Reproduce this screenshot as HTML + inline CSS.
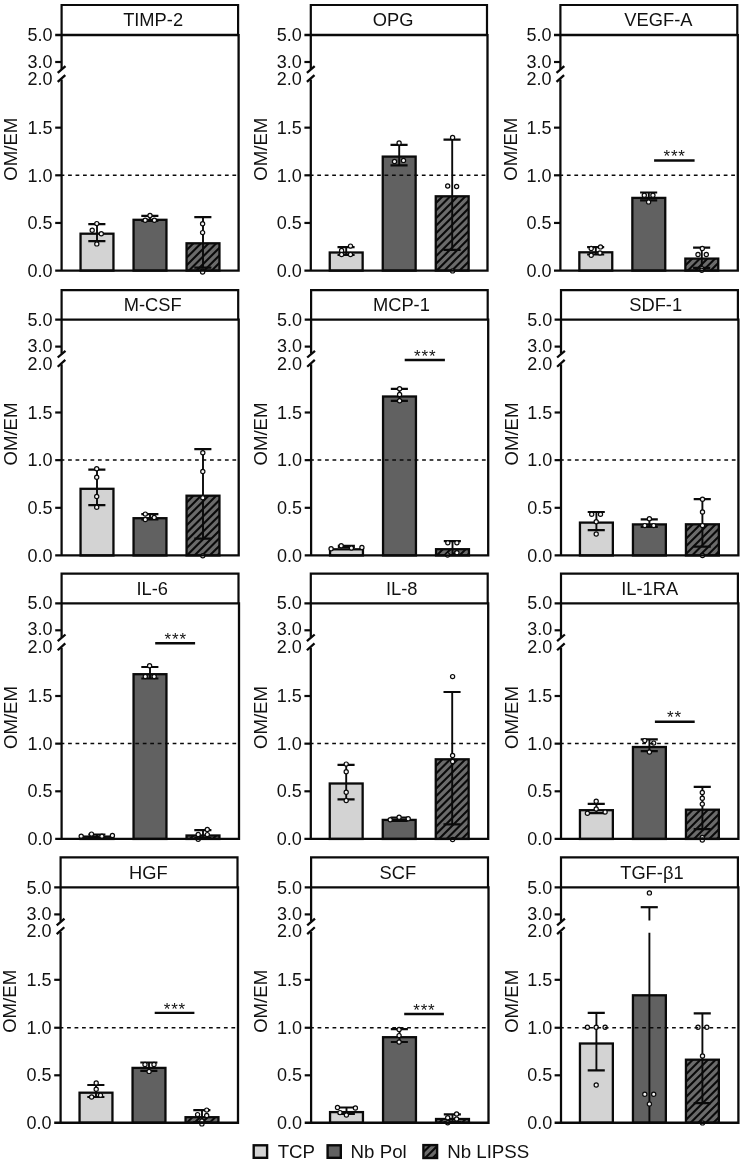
<!DOCTYPE html>
<html><head><meta charset="utf-8"><title>Figure</title>
<style>html,body{margin:0;padding:0;background:#fff}svg{display:block;will-change:transform}text{font-family:"Liberation Sans",sans-serif;fill:#111}</style>
</head><body>
<svg width="743" height="1163" viewBox="0 0 743 1163">
<rect x="0" y="0" width="743" height="1163" fill="#fff"/>
<g>
<rect x="80.55" y="233.7" width="32.9" height="36.9" fill="#d3d3d3" stroke="#0a0a0a" stroke-width="2.3"/>
<rect x="133.55" y="219.8" width="32.9" height="50.8" fill="#616161" stroke="#0a0a0a" stroke-width="2.3"/>
<clipPath id="c00"><rect x="186.55" y="243.3" width="32.9" height="27.3"/></clipPath>
<rect x="186.55" y="243.3" width="32.9" height="27.3" fill="#6b6b6b"/>
<path clip-path="url(#c00)" d="M184.55 229.4L221.45 192.5M184.55 237L221.45 200.1M184.55 244.6L221.45 207.7M184.55 252.2L221.45 215.3M184.55 259.8L221.45 222.9M184.55 267.4L221.45 230.5M184.55 275L221.45 238.1M184.55 282.6L221.45 245.7M184.55 290.2L221.45 253.3M184.55 297.8L221.45 260.9M184.55 305.4L221.45 268.5M184.55 313L221.45 276.1M184.55 320.6L221.45 283.7M184.55 328.2L221.45 291.3" stroke="#0a0a0a" stroke-width="2.1" fill="none"/>
<rect x="186.55" y="243.3" width="32.9" height="27.3" fill="none" stroke="#0a0a0a" stroke-width="2.3"/>
<path d="M88.3 224.1H105.4M88.3 241.2H105.4" stroke="#0a0a0a" stroke-width="2.2" fill="none"/><path d="M97 224.1V241.2" stroke="#0a0a0a" stroke-width="1.9" fill="none"/>
<path d="M141.3 215.8H158.4M141.3 221H158.4" stroke="#0a0a0a" stroke-width="2.2" fill="none"/><path d="M150 215.8V221" stroke="#0a0a0a" stroke-width="1.9" fill="none"/>
<path d="M194.3 217.2H211.4M194.3 267.6H211.4" stroke="#0a0a0a" stroke-width="2.2" fill="none"/><path d="M203 217.2V267.6" stroke="#0a0a0a" stroke-width="1.9" fill="none"/>
<circle cx="96.8" cy="223.6" r="2.1" fill="#f4f4f4" stroke="#0a0a0a" stroke-width="1.2"/>
<circle cx="92.2" cy="230.3" r="2.1" fill="#f4f4f4" stroke="#0a0a0a" stroke-width="1.2"/>
<circle cx="101.3" cy="233.8" r="2.1" fill="#f4f4f4" stroke="#0a0a0a" stroke-width="1.2"/>
<circle cx="96.8" cy="243.9" r="2.1" fill="#f4f4f4" stroke="#0a0a0a" stroke-width="1.2"/>
<circle cx="150" cy="215.4" r="2.1" fill="#f4f4f4" stroke="#0a0a0a" stroke-width="1.2"/>
<circle cx="145.2" cy="220.2" r="2.1" fill="#f4f4f4" stroke="#0a0a0a" stroke-width="1.2"/>
<circle cx="154.4" cy="220.2" r="2.1" fill="#f4f4f4" stroke="#0a0a0a" stroke-width="1.2"/>
<circle cx="202.6" cy="223.8" r="2.1" fill="#f4f4f4" stroke="#0a0a0a" stroke-width="1.2"/>
<circle cx="202.6" cy="232.6" r="2.1" fill="#f4f4f4" stroke="#0a0a0a" stroke-width="1.2"/>
<circle cx="202.6" cy="271.2" r="2.1" fill="#f4f4f4" stroke="#0a0a0a" stroke-width="1.2"/>
<circle cx="202.6" cy="272" r="2.1" fill="#f4f4f4" stroke="#0a0a0a" stroke-width="1.2"/>
<path d="M60.6 175.15H238.6" stroke="#0a0a0a" stroke-width="1.5" stroke-dasharray="3.75 3.72" fill="none"/>
<path d="M61.6 35V5H238.1V35" stroke="#0a0a0a" stroke-width="2.2" fill="none" stroke-linejoin="miter"/>
<path d="M238.6 33.9V270.6H55.2" stroke="#0a0a0a" stroke-width="2.3" fill="none" stroke-linejoin="miter"/>
<path d="M55.2 35H238.6" stroke="#0a0a0a" stroke-width="2.3" fill="none"/>
<path d="M61.6 35V69.1M61.6 79.5V270.6" stroke="#0a0a0a" stroke-width="2.25" fill="none"/>
<path d="M57.7 72.9L65.5 66.2M57.7 81.9L65.3 75.1" stroke="#0a0a0a" stroke-width="2.3" fill="none"/>
<path d="M55.2 62H61.6" stroke="#0a0a0a" stroke-width="2.2" fill="none"/>
<path d="M55.2 127.65H61.6" stroke="#0a0a0a" stroke-width="2.2" fill="none"/>
<path d="M55.2 175.3H61.6" stroke="#0a0a0a" stroke-width="2.2" fill="none"/>
<path d="M55.2 222.95H61.6" stroke="#0a0a0a" stroke-width="2.2" fill="none"/>
<text x="52.5" y="41.3" font-size="18" text-anchor="end">5.0</text>
<text x="52.5" y="67.5" font-size="18" text-anchor="end">3.0</text>
<text x="52.5" y="85" font-size="18" text-anchor="end">2.0</text>
<text x="52.5" y="133.95" font-size="18" text-anchor="end">1.5</text>
<text x="52.5" y="181.6" font-size="18" text-anchor="end">1.0</text>
<text x="52.5" y="229.25" font-size="18" text-anchor="end">0.5</text>
<text x="52.5" y="276.9" font-size="18" text-anchor="end">0.0</text>
<text transform="translate(17.3 149.2) rotate(-90)" font-size="18.6" text-anchor="middle">OM/EM</text>
<text x="153.1" y="26.15" font-size="18.3" text-anchor="middle">TIMP-2</text>
</g>
<g>
<rect x="329.75" y="252.5" width="32.9" height="18.1" fill="#d3d3d3" stroke="#0a0a0a" stroke-width="2.3"/>
<rect x="382.75" y="156.6" width="32.9" height="114" fill="#616161" stroke="#0a0a0a" stroke-width="2.3"/>
<clipPath id="c01"><rect x="435.75" y="196.3" width="32.9" height="74.3"/></clipPath>
<rect x="435.75" y="196.3" width="32.9" height="74.3" fill="#6b6b6b"/>
<path clip-path="url(#c01)" d="M433.75 182.4L470.65 145.5M433.75 190L470.65 153.1M433.75 197.6L470.65 160.7M433.75 205.2L470.65 168.3M433.75 212.8L470.65 175.9M433.75 220.4L470.65 183.5M433.75 228L470.65 191.1M433.75 235.6L470.65 198.7M433.75 243.2L470.65 206.3M433.75 250.8L470.65 213.9M433.75 258.4L470.65 221.5M433.75 266L470.65 229.1M433.75 273.6L470.65 236.7M433.75 281.2L470.65 244.3M433.75 288.8L470.65 251.9M433.75 296.4L470.65 259.5M433.75 304L470.65 267.1M433.75 311.6L470.65 274.7M433.75 319.2L470.65 282.3M433.75 326.8L470.65 289.9" stroke="#0a0a0a" stroke-width="2.1" fill="none"/>
<rect x="435.75" y="196.3" width="32.9" height="74.3" fill="none" stroke="#0a0a0a" stroke-width="2.3"/>
<path d="M337.5 247.1H354.6M337.5 255H354.6" stroke="#0a0a0a" stroke-width="2.2" fill="none"/><path d="M346.2 247.1V255" stroke="#0a0a0a" stroke-width="1.9" fill="none"/>
<path d="M390.5 144.8H407.6M390.5 165.3H407.6" stroke="#0a0a0a" stroke-width="2.2" fill="none"/><path d="M399.2 144.8V165.3" stroke="#0a0a0a" stroke-width="1.9" fill="none"/>
<path d="M443.5 139.7H460.6M443.5 249.9H460.6" stroke="#0a0a0a" stroke-width="2.2" fill="none"/><path d="M452.2 139.7V249.9" stroke="#0a0a0a" stroke-width="1.9" fill="none"/>
<circle cx="350.5" cy="246.1" r="2.1" fill="#f4f4f4" stroke="#0a0a0a" stroke-width="1.2"/>
<circle cx="341.6" cy="250.4" r="2.1" fill="#f4f4f4" stroke="#0a0a0a" stroke-width="1.2"/>
<circle cx="341.6" cy="254.5" r="2.1" fill="#f4f4f4" stroke="#0a0a0a" stroke-width="1.2"/>
<circle cx="350.5" cy="254.5" r="2.1" fill="#f4f4f4" stroke="#0a0a0a" stroke-width="1.2"/>
<circle cx="399.1" cy="143" r="2.1" fill="#f4f4f4" stroke="#0a0a0a" stroke-width="1.2"/>
<circle cx="394.5" cy="161.4" r="2.1" fill="#f4f4f4" stroke="#0a0a0a" stroke-width="1.2"/>
<circle cx="403.5" cy="160.4" r="2.1" fill="#f4f4f4" stroke="#0a0a0a" stroke-width="1.2"/>
<circle cx="452.6" cy="137.4" r="2.1" fill="#f4f4f4" stroke="#0a0a0a" stroke-width="1.2"/>
<circle cx="447.7" cy="186" r="2.1" fill="#f4f4f4" stroke="#0a0a0a" stroke-width="1.2"/>
<circle cx="456.6" cy="186.5" r="2.1" fill="#f4f4f4" stroke="#0a0a0a" stroke-width="1.2"/>
<circle cx="452.6" cy="270.9" r="2.1" fill="#f4f4f4" stroke="#0a0a0a" stroke-width="1.2"/>
<path d="M309.8 175.15H487.5" stroke="#0a0a0a" stroke-width="1.5" stroke-dasharray="3.75 3.72" fill="none"/>
<path d="M310.8 35V5H487V35" stroke="#0a0a0a" stroke-width="2.2" fill="none" stroke-linejoin="miter"/>
<path d="M487.5 33.9V270.6H304.4" stroke="#0a0a0a" stroke-width="2.3" fill="none" stroke-linejoin="miter"/>
<path d="M304.4 35H487.5" stroke="#0a0a0a" stroke-width="2.3" fill="none"/>
<path d="M310.8 35V69.1M310.8 79.5V270.6" stroke="#0a0a0a" stroke-width="2.25" fill="none"/>
<path d="M306.9 72.9L314.7 66.2M306.9 81.9L314.5 75.1" stroke="#0a0a0a" stroke-width="2.3" fill="none"/>
<path d="M304.4 62H310.8" stroke="#0a0a0a" stroke-width="2.2" fill="none"/>
<path d="M304.4 127.65H310.8" stroke="#0a0a0a" stroke-width="2.2" fill="none"/>
<path d="M304.4 175.3H310.8" stroke="#0a0a0a" stroke-width="2.2" fill="none"/>
<path d="M304.4 222.95H310.8" stroke="#0a0a0a" stroke-width="2.2" fill="none"/>
<text x="301.8" y="41.3" font-size="18" text-anchor="end">5.0</text>
<text x="301.8" y="67.5" font-size="18" text-anchor="end">3.0</text>
<text x="301.8" y="85" font-size="18" text-anchor="end">2.0</text>
<text x="301.8" y="133.95" font-size="18" text-anchor="end">1.5</text>
<text x="301.8" y="181.6" font-size="18" text-anchor="end">1.0</text>
<text x="301.8" y="229.25" font-size="18" text-anchor="end">0.5</text>
<text x="301.8" y="276.9" font-size="18" text-anchor="end">0.0</text>
<text transform="translate(266.8 149.2) rotate(-90)" font-size="18.6" text-anchor="middle">OM/EM</text>
<text x="393.1" y="26.15" font-size="18.3" text-anchor="middle">OPG</text>
</g>
<g>
<rect x="579.35" y="252.3" width="32.9" height="18.3" fill="#d3d3d3" stroke="#0a0a0a" stroke-width="2.3"/>
<rect x="632.35" y="197.9" width="32.9" height="72.7" fill="#616161" stroke="#0a0a0a" stroke-width="2.3"/>
<clipPath id="c02"><rect x="685.35" y="258.6" width="32.9" height="12"/></clipPath>
<rect x="685.35" y="258.6" width="32.9" height="12" fill="#6b6b6b"/>
<path clip-path="url(#c02)" d="M683.35 244.7L720.25 207.8M683.35 252.3L720.25 215.4M683.35 259.9L720.25 223M683.35 267.5L720.25 230.6M683.35 275.1L720.25 238.2M683.35 282.7L720.25 245.8M683.35 290.3L720.25 253.4M683.35 297.9L720.25 261M683.35 305.5L720.25 268.6M683.35 313.1L720.25 276.2M683.35 320.7L720.25 283.8M683.35 328.3L720.25 291.4" stroke="#0a0a0a" stroke-width="2.1" fill="none"/>
<rect x="685.35" y="258.6" width="32.9" height="12" fill="none" stroke="#0a0a0a" stroke-width="2.3"/>
<path d="M587.1 247.2H604.2M587.1 254.5H604.2" stroke="#0a0a0a" stroke-width="2.2" fill="none"/><path d="M595.8 247.2V254.5" stroke="#0a0a0a" stroke-width="1.9" fill="none"/>
<path d="M640.1 192.5H657.2M640.1 200.3H657.2" stroke="#0a0a0a" stroke-width="2.2" fill="none"/><path d="M648.8 192.5V200.3" stroke="#0a0a0a" stroke-width="1.9" fill="none"/>
<path d="M693.1 247.7H710.2M693.1 267.9H710.2" stroke="#0a0a0a" stroke-width="2.2" fill="none"/><path d="M701.8 247.7V267.9" stroke="#0a0a0a" stroke-width="1.9" fill="none"/>
<circle cx="600.5" cy="246.9" r="2.1" fill="#f4f4f4" stroke="#0a0a0a" stroke-width="1.2"/>
<circle cx="591.2" cy="248.4" r="2.1" fill="#f4f4f4" stroke="#0a0a0a" stroke-width="1.2"/>
<circle cx="600" cy="253" r="2.1" fill="#f4f4f4" stroke="#0a0a0a" stroke-width="1.2"/>
<circle cx="591.2" cy="255.3" r="2.1" fill="#f4f4f4" stroke="#0a0a0a" stroke-width="1.2"/>
<circle cx="644.3" cy="195.3" r="2.1" fill="#f4f4f4" stroke="#0a0a0a" stroke-width="1.2"/>
<circle cx="652.9" cy="195.3" r="2.1" fill="#f4f4f4" stroke="#0a0a0a" stroke-width="1.2"/>
<circle cx="648.6" cy="201.9" r="2.1" fill="#f4f4f4" stroke="#0a0a0a" stroke-width="1.2"/>
<circle cx="702.3" cy="248.4" r="2.1" fill="#f4f4f4" stroke="#0a0a0a" stroke-width="1.2"/>
<circle cx="698" cy="254.5" r="2.1" fill="#f4f4f4" stroke="#0a0a0a" stroke-width="1.2"/>
<circle cx="706.3" cy="254.5" r="2.1" fill="#f4f4f4" stroke="#0a0a0a" stroke-width="1.2"/>
<circle cx="701.8" cy="268.6" r="2.1" fill="#f4f4f4" stroke="#0a0a0a" stroke-width="1.2"/>
<circle cx="701.8" cy="270.2" r="2.1" fill="#f4f4f4" stroke="#0a0a0a" stroke-width="1.2"/>
<path d="M559.4 175.15H737.8" stroke="#0a0a0a" stroke-width="1.5" stroke-dasharray="3.75 3.72" fill="none"/>
<path d="M560.4 35V5H737.3V35" stroke="#0a0a0a" stroke-width="2.2" fill="none" stroke-linejoin="miter"/>
<path d="M737.8 33.9V270.6H554" stroke="#0a0a0a" stroke-width="2.3" fill="none" stroke-linejoin="miter"/>
<path d="M554 35H737.8" stroke="#0a0a0a" stroke-width="2.3" fill="none"/>
<path d="M560.4 35V69.1M560.4 79.5V270.6" stroke="#0a0a0a" stroke-width="2.25" fill="none"/>
<path d="M556.5 72.9L564.3 66.2M556.5 81.9L564.1 75.1" stroke="#0a0a0a" stroke-width="2.3" fill="none"/>
<path d="M554 62H560.4" stroke="#0a0a0a" stroke-width="2.2" fill="none"/>
<path d="M554 127.65H560.4" stroke="#0a0a0a" stroke-width="2.2" fill="none"/>
<path d="M554 175.3H560.4" stroke="#0a0a0a" stroke-width="2.2" fill="none"/>
<path d="M554 222.95H560.4" stroke="#0a0a0a" stroke-width="2.2" fill="none"/>
<text x="551.6" y="41.3" font-size="18" text-anchor="end">5.0</text>
<text x="551.6" y="67.5" font-size="18" text-anchor="end">3.0</text>
<text x="551.6" y="85" font-size="18" text-anchor="end">2.0</text>
<text x="551.6" y="133.95" font-size="18" text-anchor="end">1.5</text>
<text x="551.6" y="181.6" font-size="18" text-anchor="end">1.0</text>
<text x="551.6" y="229.25" font-size="18" text-anchor="end">0.5</text>
<text x="551.6" y="276.9" font-size="18" text-anchor="end">0.0</text>
<text transform="translate(516.9 149.2) rotate(-90)" font-size="18.6" text-anchor="middle">OM/EM</text>
<text x="658.4" y="26.15" font-size="18.3" text-anchor="middle">VEGF-A</text>
<path d="M654.1 160.5H694.6" stroke="#0a0a0a" stroke-width="2.4" fill="none"/>
<text x="674.65" y="161.9" font-size="17" text-anchor="middle" letter-spacing="0.8">***</text>
</g>
<g>
<rect x="80.55" y="488.8" width="32.9" height="66.65" fill="#d3d3d3" stroke="#0a0a0a" stroke-width="2.3"/>
<rect x="133.55" y="518.2" width="32.9" height="37.25" fill="#616161" stroke="#0a0a0a" stroke-width="2.3"/>
<clipPath id="c10"><rect x="186.55" y="495.7" width="32.9" height="59.75"/></clipPath>
<rect x="186.55" y="495.7" width="32.9" height="59.75" fill="#6b6b6b"/>
<path clip-path="url(#c10)" d="M184.55 481.8L221.45 444.9M184.55 489.4L221.45 452.5M184.55 497L221.45 460.1M184.55 504.6L221.45 467.7M184.55 512.2L221.45 475.3M184.55 519.8L221.45 482.9M184.55 527.4L221.45 490.5M184.55 535L221.45 498.1M184.55 542.6L221.45 505.7M184.55 550.2L221.45 513.3M184.55 557.8L221.45 520.9M184.55 565.4L221.45 528.5M184.55 573L221.45 536.1M184.55 580.6L221.45 543.7M184.55 588.2L221.45 551.3M184.55 595.8L221.45 558.9M184.55 603.4L221.45 566.5M184.55 611L221.45 574.1" stroke="#0a0a0a" stroke-width="2.1" fill="none"/>
<rect x="186.55" y="495.7" width="32.9" height="59.75" fill="none" stroke="#0a0a0a" stroke-width="2.3"/>
<path d="M88.3 469.6H105.4M88.3 505.1H105.4" stroke="#0a0a0a" stroke-width="2.2" fill="none"/><path d="M97 469.6V505.1" stroke="#0a0a0a" stroke-width="1.9" fill="none"/>
<path d="M141.3 514.1H158.4M141.3 519.5H158.4" stroke="#0a0a0a" stroke-width="2.2" fill="none"/><path d="M150 514.1V519.5" stroke="#0a0a0a" stroke-width="1.9" fill="none"/>
<path d="M194.3 449.1H211.4M194.3 538.6H211.4" stroke="#0a0a0a" stroke-width="2.2" fill="none"/><path d="M203 449.1V538.6" stroke="#0a0a0a" stroke-width="1.9" fill="none"/>
<circle cx="96.7" cy="468.8" r="2.1" fill="#f4f4f4" stroke="#0a0a0a" stroke-width="1.2"/>
<circle cx="96.7" cy="477.3" r="2.1" fill="#f4f4f4" stroke="#0a0a0a" stroke-width="1.2"/>
<circle cx="96.7" cy="496.4" r="2.1" fill="#f4f4f4" stroke="#0a0a0a" stroke-width="1.2"/>
<circle cx="96.7" cy="507.2" r="2.1" fill="#f4f4f4" stroke="#0a0a0a" stroke-width="1.2"/>
<circle cx="145.3" cy="514.1" r="2.1" fill="#f4f4f4" stroke="#0a0a0a" stroke-width="1.2"/>
<circle cx="145.3" cy="519.5" r="2.1" fill="#f4f4f4" stroke="#0a0a0a" stroke-width="1.2"/>
<circle cx="154.2" cy="517.4" r="2.1" fill="#f4f4f4" stroke="#0a0a0a" stroke-width="1.2"/>
<circle cx="202.8" cy="452.7" r="2.1" fill="#f4f4f4" stroke="#0a0a0a" stroke-width="1.2"/>
<circle cx="202.8" cy="471.4" r="2.1" fill="#f4f4f4" stroke="#0a0a0a" stroke-width="1.2"/>
<circle cx="202.8" cy="497.7" r="2.1" fill="#f4f4f4" stroke="#0a0a0a" stroke-width="1.2"/>
<circle cx="202.8" cy="555.8" r="2.1" fill="#f4f4f4" stroke="#0a0a0a" stroke-width="1.2"/>
<path d="M60.6 460H238.7" stroke="#0a0a0a" stroke-width="1.5" stroke-dasharray="3.75 3.72" fill="none"/>
<path d="M61.6 319.6V290.2H238.2V319.6" stroke="#0a0a0a" stroke-width="2.2" fill="none" stroke-linejoin="miter"/>
<path d="M238.7 318.5V555.45H55.2" stroke="#0a0a0a" stroke-width="2.3" fill="none" stroke-linejoin="miter"/>
<path d="M55.2 319.6H238.7" stroke="#0a0a0a" stroke-width="2.3" fill="none"/>
<path d="M61.6 319.6V353.7M61.6 364.35V555.45" stroke="#0a0a0a" stroke-width="2.25" fill="none"/>
<path d="M57.7 357.5L65.5 350.8M57.7 366.75L65.3 359.95" stroke="#0a0a0a" stroke-width="2.3" fill="none"/>
<path d="M55.2 346.6H61.6" stroke="#0a0a0a" stroke-width="2.2" fill="none"/>
<path d="M55.2 412.5H61.6" stroke="#0a0a0a" stroke-width="2.2" fill="none"/>
<path d="M55.2 460.15H61.6" stroke="#0a0a0a" stroke-width="2.2" fill="none"/>
<path d="M55.2 507.8H61.6" stroke="#0a0a0a" stroke-width="2.2" fill="none"/>
<text x="52.5" y="325.9" font-size="18" text-anchor="end">5.0</text>
<text x="52.5" y="352.1" font-size="18" text-anchor="end">3.0</text>
<text x="52.5" y="369.85" font-size="18" text-anchor="end">2.0</text>
<text x="52.5" y="418.8" font-size="18" text-anchor="end">1.5</text>
<text x="52.5" y="466.45" font-size="18" text-anchor="end">1.0</text>
<text x="52.5" y="514.1" font-size="18" text-anchor="end">0.5</text>
<text x="52.5" y="561.75" font-size="18" text-anchor="end">0.0</text>
<text transform="translate(17.3 434.05) rotate(-90)" font-size="18.6" text-anchor="middle">OM/EM</text>
<text x="152.7" y="311.35" font-size="18.3" text-anchor="middle">M-CSF</text>
</g>
<g>
<rect x="330.05" y="549.3" width="32.9" height="6.15" fill="#d3d3d3" stroke="#0a0a0a" stroke-width="2.3"/>
<rect x="383.05" y="396.5" width="32.9" height="158.95" fill="#616161" stroke="#0a0a0a" stroke-width="2.3"/>
<clipPath id="c11"><rect x="436.05" y="549.2" width="32.9" height="6.25"/></clipPath>
<rect x="436.05" y="549.2" width="32.9" height="6.25" fill="#6b6b6b"/>
<path clip-path="url(#c11)" d="M434.05 535.3L470.95 498.4M434.05 542.9L470.95 506M434.05 550.5L470.95 513.6M434.05 558.1L470.95 521.2M434.05 565.7L470.95 528.8M434.05 573.3L470.95 536.4M434.05 580.9L470.95 544M434.05 588.5L470.95 551.6M434.05 596.1L470.95 559.2M434.05 603.7L470.95 566.8M434.05 611.3L470.95 574.4" stroke="#0a0a0a" stroke-width="2.1" fill="none"/>
<rect x="436.05" y="549.2" width="32.9" height="6.25" fill="none" stroke="#0a0a0a" stroke-width="2.3"/>
<path d="M337.8 545.9H354.9M337.8 547H354.9" stroke="#0a0a0a" stroke-width="2.2" fill="none"/><path d="M346.5 545.9V547" stroke="#0a0a0a" stroke-width="1.9" fill="none"/>
<path d="M390.8 388.8H407.9M390.8 400.8H407.9" stroke="#0a0a0a" stroke-width="2.2" fill="none"/><path d="M399.5 388.8V400.8" stroke="#0a0a0a" stroke-width="1.9" fill="none"/>
<path d="M443.8 541.1H460.9M443.8 555H460.9" stroke="#0a0a0a" stroke-width="2.2" fill="none"/><path d="M452.5 541.1V555" stroke="#0a0a0a" stroke-width="1.9" fill="none"/>
<circle cx="331.1" cy="548.8" r="2.1" fill="#f4f4f4" stroke="#0a0a0a" stroke-width="1.2"/>
<circle cx="341.2" cy="545.8" r="2.1" fill="#f4f4f4" stroke="#0a0a0a" stroke-width="1.2"/>
<circle cx="351.4" cy="548.1" r="2.1" fill="#f4f4f4" stroke="#0a0a0a" stroke-width="1.2"/>
<circle cx="361.9" cy="547.4" r="2.1" fill="#f4f4f4" stroke="#0a0a0a" stroke-width="1.2"/>
<circle cx="399.6" cy="388.8" r="2.1" fill="#f4f4f4" stroke="#0a0a0a" stroke-width="1.2"/>
<circle cx="399.6" cy="394.4" r="2.1" fill="#f4f4f4" stroke="#0a0a0a" stroke-width="1.2"/>
<circle cx="399.6" cy="400.8" r="2.1" fill="#f4f4f4" stroke="#0a0a0a" stroke-width="1.2"/>
<circle cx="447.8" cy="542.8" r="2.1" fill="#f4f4f4" stroke="#0a0a0a" stroke-width="1.2"/>
<circle cx="456.9" cy="542.8" r="2.1" fill="#f4f4f4" stroke="#0a0a0a" stroke-width="1.2"/>
<circle cx="456.9" cy="552.7" r="2.1" fill="#f4f4f4" stroke="#0a0a0a" stroke-width="1.2"/>
<circle cx="447.6" cy="555" r="2.1" fill="#f4f4f4" stroke="#0a0a0a" stroke-width="1.2"/>
<path d="M310.1 460H488.2" stroke="#0a0a0a" stroke-width="1.5" stroke-dasharray="3.75 3.72" fill="none"/>
<path d="M311.1 319.6V290.2H487.7V319.6" stroke="#0a0a0a" stroke-width="2.2" fill="none" stroke-linejoin="miter"/>
<path d="M488.2 318.5V555.45H304.7" stroke="#0a0a0a" stroke-width="2.3" fill="none" stroke-linejoin="miter"/>
<path d="M304.7 319.6H488.2" stroke="#0a0a0a" stroke-width="2.3" fill="none"/>
<path d="M311.1 319.6V353.7M311.1 364.35V555.45" stroke="#0a0a0a" stroke-width="2.25" fill="none"/>
<path d="M307.2 357.5L315 350.8M307.2 366.75L314.8 359.95" stroke="#0a0a0a" stroke-width="2.3" fill="none"/>
<path d="M304.7 346.6H311.1" stroke="#0a0a0a" stroke-width="2.2" fill="none"/>
<path d="M304.7 412.5H311.1" stroke="#0a0a0a" stroke-width="2.2" fill="none"/>
<path d="M304.7 460.15H311.1" stroke="#0a0a0a" stroke-width="2.2" fill="none"/>
<path d="M304.7 507.8H311.1" stroke="#0a0a0a" stroke-width="2.2" fill="none"/>
<text x="302.1" y="325.9" font-size="18" text-anchor="end">5.0</text>
<text x="302.1" y="352.1" font-size="18" text-anchor="end">3.0</text>
<text x="302.1" y="369.85" font-size="18" text-anchor="end">2.0</text>
<text x="302.1" y="418.8" font-size="18" text-anchor="end">1.5</text>
<text x="302.1" y="466.45" font-size="18" text-anchor="end">1.0</text>
<text x="302.1" y="514.1" font-size="18" text-anchor="end">0.5</text>
<text x="302.1" y="561.75" font-size="18" text-anchor="end">0.0</text>
<text transform="translate(267.1 434.05) rotate(-90)" font-size="18.6" text-anchor="middle">OM/EM</text>
<text x="401.4" y="311.35" font-size="18.3" text-anchor="middle">MCP-1</text>
<path d="M404.7 360H444.9" stroke="#0a0a0a" stroke-width="2.4" fill="none"/>
<text x="425.2" y="361.5" font-size="17" text-anchor="middle" letter-spacing="0.8">***</text>
</g>
<g>
<rect x="579.95" y="522.6" width="32.9" height="32.85" fill="#d3d3d3" stroke="#0a0a0a" stroke-width="2.3"/>
<rect x="632.95" y="524.4" width="32.9" height="31.05" fill="#616161" stroke="#0a0a0a" stroke-width="2.3"/>
<clipPath id="c12"><rect x="685.95" y="524.3" width="32.9" height="31.15"/></clipPath>
<rect x="685.95" y="524.3" width="32.9" height="31.15" fill="#6b6b6b"/>
<path clip-path="url(#c12)" d="M683.95 510.4L720.85 473.5M683.95 518L720.85 481.1M683.95 525.6L720.85 488.7M683.95 533.2L720.85 496.3M683.95 540.8L720.85 503.9M683.95 548.4L720.85 511.5M683.95 556L720.85 519.1M683.95 563.6L720.85 526.7M683.95 571.2L720.85 534.3M683.95 578.8L720.85 541.9M683.95 586.4L720.85 549.5M683.95 594L720.85 557.1M683.95 601.6L720.85 564.7M683.95 609.2L720.85 572.3" stroke="#0a0a0a" stroke-width="2.1" fill="none"/>
<rect x="685.95" y="524.3" width="32.9" height="31.15" fill="none" stroke="#0a0a0a" stroke-width="2.3"/>
<path d="M587.7 512H604.8M587.7 530.2H604.8" stroke="#0a0a0a" stroke-width="2.2" fill="none"/><path d="M596.4 512V530.2" stroke="#0a0a0a" stroke-width="1.9" fill="none"/>
<path d="M640.7 519.3H657.8M640.7 526.9H657.8" stroke="#0a0a0a" stroke-width="2.2" fill="none"/><path d="M649.4 519.3V526.9" stroke="#0a0a0a" stroke-width="1.9" fill="none"/>
<path d="M693.7 499.1H710.8M693.7 546.6H710.8" stroke="#0a0a0a" stroke-width="2.2" fill="none"/><path d="M702.4 499.1V546.6" stroke="#0a0a0a" stroke-width="1.9" fill="none"/>
<circle cx="591.7" cy="514.3" r="2.1" fill="#f4f4f4" stroke="#0a0a0a" stroke-width="1.2"/>
<circle cx="600.5" cy="514.3" r="2.1" fill="#f4f4f4" stroke="#0a0a0a" stroke-width="1.2"/>
<circle cx="596.2" cy="521.8" r="2.1" fill="#f4f4f4" stroke="#0a0a0a" stroke-width="1.2"/>
<circle cx="596.2" cy="534" r="2.1" fill="#f4f4f4" stroke="#0a0a0a" stroke-width="1.2"/>
<circle cx="649.4" cy="518.8" r="2.1" fill="#f4f4f4" stroke="#0a0a0a" stroke-width="1.2"/>
<circle cx="644.8" cy="525.6" r="2.1" fill="#f4f4f4" stroke="#0a0a0a" stroke-width="1.2"/>
<circle cx="653.7" cy="525.6" r="2.1" fill="#f4f4f4" stroke="#0a0a0a" stroke-width="1.2"/>
<circle cx="702.5" cy="499.3" r="2.1" fill="#f4f4f4" stroke="#0a0a0a" stroke-width="1.2"/>
<circle cx="702.5" cy="512" r="2.1" fill="#f4f4f4" stroke="#0a0a0a" stroke-width="1.2"/>
<circle cx="702.5" cy="525.6" r="2.1" fill="#f4f4f4" stroke="#0a0a0a" stroke-width="1.2"/>
<circle cx="702.5" cy="555.5" r="2.1" fill="#f4f4f4" stroke="#0a0a0a" stroke-width="1.2"/>
<path d="M560 460H738.4" stroke="#0a0a0a" stroke-width="1.5" stroke-dasharray="3.75 3.72" fill="none"/>
<path d="M561 319.6V290.2H737.9V319.6" stroke="#0a0a0a" stroke-width="2.2" fill="none" stroke-linejoin="miter"/>
<path d="M738.4 318.5V555.45H554.6" stroke="#0a0a0a" stroke-width="2.3" fill="none" stroke-linejoin="miter"/>
<path d="M554.6 319.6H738.4" stroke="#0a0a0a" stroke-width="2.3" fill="none"/>
<path d="M561 319.6V353.7M561 364.35V555.45" stroke="#0a0a0a" stroke-width="2.25" fill="none"/>
<path d="M557.1 357.5L564.9 350.8M557.1 366.75L564.7 359.95" stroke="#0a0a0a" stroke-width="2.3" fill="none"/>
<path d="M554.6 346.6H561" stroke="#0a0a0a" stroke-width="2.2" fill="none"/>
<path d="M554.6 412.5H561" stroke="#0a0a0a" stroke-width="2.2" fill="none"/>
<path d="M554.6 460.15H561" stroke="#0a0a0a" stroke-width="2.2" fill="none"/>
<path d="M554.6 507.8H561" stroke="#0a0a0a" stroke-width="2.2" fill="none"/>
<text x="552.2" y="325.9" font-size="18" text-anchor="end">5.0</text>
<text x="552.2" y="352.1" font-size="18" text-anchor="end">3.0</text>
<text x="552.2" y="369.85" font-size="18" text-anchor="end">2.0</text>
<text x="552.2" y="418.8" font-size="18" text-anchor="end">1.5</text>
<text x="552.2" y="466.45" font-size="18" text-anchor="end">1.0</text>
<text x="552.2" y="514.1" font-size="18" text-anchor="end">0.5</text>
<text x="552.2" y="561.75" font-size="18" text-anchor="end">0.0</text>
<text transform="translate(517.5 434.05) rotate(-90)" font-size="18.6" text-anchor="middle">OM/EM</text>
<text x="655.7" y="311.35" font-size="18.3" text-anchor="middle">SDF-1</text>
</g>
<g>
<rect x="80.55" y="836.6" width="32.9" height="2.35" fill="#d3d3d3" stroke="#0a0a0a" stroke-width="2.3"/>
<rect x="133.55" y="674.2" width="32.9" height="164.75" fill="#616161" stroke="#0a0a0a" stroke-width="2.3"/>
<clipPath id="c20"><rect x="186.55" y="835.5" width="32.9" height="3.45"/></clipPath>
<rect x="186.55" y="835.5" width="32.9" height="3.45" fill="#6b6b6b"/>
<path clip-path="url(#c20)" d="M184.55 821.6L221.45 784.7M184.55 829.2L221.45 792.3M184.55 836.8L221.45 799.9M184.55 844.4L221.45 807.5M184.55 852L221.45 815.1M184.55 859.6L221.45 822.7M184.55 867.2L221.45 830.3M184.55 874.8L221.45 837.9M184.55 882.4L221.45 845.5M184.55 890L221.45 853.1M184.55 897.6L221.45 860.7" stroke="#0a0a0a" stroke-width="2.1" fill="none"/>
<rect x="186.55" y="835.5" width="32.9" height="3.45" fill="none" stroke="#0a0a0a" stroke-width="2.3"/>
<path d="M88.3 834.5H105.4M88.3 837H105.4" stroke="#0a0a0a" stroke-width="2.2" fill="none"/><path d="M97 834.5V837" stroke="#0a0a0a" stroke-width="1.9" fill="none"/>
<path d="M141.3 667H158.4M141.3 678.5H158.4" stroke="#0a0a0a" stroke-width="2.2" fill="none"/><path d="M150 667V678.5" stroke="#0a0a0a" stroke-width="1.9" fill="none"/>
<path d="M194.3 830.1H211.4M194.3 838H211.4" stroke="#0a0a0a" stroke-width="2.2" fill="none"/><path d="M203 830.1V838" stroke="#0a0a0a" stroke-width="1.9" fill="none"/>
<circle cx="81.2" cy="836.3" r="2.1" fill="#f4f4f4" stroke="#0a0a0a" stroke-width="1.2"/>
<circle cx="91.5" cy="834.1" r="2.1" fill="#f4f4f4" stroke="#0a0a0a" stroke-width="1.2"/>
<circle cx="101.9" cy="836.3" r="2.1" fill="#f4f4f4" stroke="#0a0a0a" stroke-width="1.2"/>
<circle cx="112.4" cy="835.4" r="2.1" fill="#f4f4f4" stroke="#0a0a0a" stroke-width="1.2"/>
<circle cx="149.6" cy="665.7" r="2.1" fill="#f4f4f4" stroke="#0a0a0a" stroke-width="1.2"/>
<circle cx="145.3" cy="676.5" r="2.1" fill="#f4f4f4" stroke="#0a0a0a" stroke-width="1.2"/>
<circle cx="154.2" cy="676.5" r="2.1" fill="#f4f4f4" stroke="#0a0a0a" stroke-width="1.2"/>
<circle cx="207.3" cy="829.5" r="2.1" fill="#f4f4f4" stroke="#0a0a0a" stroke-width="1.2"/>
<circle cx="198.2" cy="834.4" r="2.1" fill="#f4f4f4" stroke="#0a0a0a" stroke-width="1.2"/>
<circle cx="207.3" cy="834.6" r="2.1" fill="#f4f4f4" stroke="#0a0a0a" stroke-width="1.2"/>
<circle cx="198.2" cy="839.3" r="2.1" fill="#f4f4f4" stroke="#0a0a0a" stroke-width="1.2"/>
<path d="M60.6 743.5H239" stroke="#0a0a0a" stroke-width="1.5" stroke-dasharray="3.75 3.72" fill="none"/>
<path d="M61.6 603.3V573.6H238.5V603.3" stroke="#0a0a0a" stroke-width="2.2" fill="none" stroke-linejoin="miter"/>
<path d="M239 602.2V838.95H55.2" stroke="#0a0a0a" stroke-width="2.3" fill="none" stroke-linejoin="miter"/>
<path d="M55.2 603.3H239" stroke="#0a0a0a" stroke-width="2.3" fill="none"/>
<path d="M61.6 603.3V637.4M61.6 647.85V838.95" stroke="#0a0a0a" stroke-width="2.25" fill="none"/>
<path d="M57.7 641.2L65.5 634.5M57.7 650.25L65.3 643.45" stroke="#0a0a0a" stroke-width="2.3" fill="none"/>
<path d="M55.2 630.3H61.6" stroke="#0a0a0a" stroke-width="2.2" fill="none"/>
<path d="M55.2 696H61.6" stroke="#0a0a0a" stroke-width="2.2" fill="none"/>
<path d="M55.2 743.65H61.6" stroke="#0a0a0a" stroke-width="2.2" fill="none"/>
<path d="M55.2 791.3H61.6" stroke="#0a0a0a" stroke-width="2.2" fill="none"/>
<text x="52.5" y="609.25" font-size="18" text-anchor="end">5.0</text>
<text x="52.5" y="635.45" font-size="18" text-anchor="end">3.0</text>
<text x="52.5" y="653" font-size="18" text-anchor="end">2.0</text>
<text x="52.5" y="701.95" font-size="18" text-anchor="end">1.5</text>
<text x="52.5" y="749.6" font-size="18" text-anchor="end">1.0</text>
<text x="52.5" y="797.25" font-size="18" text-anchor="end">0.5</text>
<text x="52.5" y="844.9" font-size="18" text-anchor="end">0.0</text>
<text transform="translate(17.3 717.55) rotate(-90)" font-size="18.6" text-anchor="middle">OM/EM</text>
<text x="152.3" y="594.75" font-size="18.3" text-anchor="middle">IL-6</text>
<path d="M155.2 643.3H195.1" stroke="#0a0a0a" stroke-width="2.4" fill="none"/>
<text x="175.7" y="644.8" font-size="17" text-anchor="middle" letter-spacing="0.8">***</text>
</g>
<g>
<rect x="329.75" y="783.5" width="32.9" height="55.45" fill="#d3d3d3" stroke="#0a0a0a" stroke-width="2.3"/>
<rect x="382.75" y="819.9" width="32.9" height="19.05" fill="#616161" stroke="#0a0a0a" stroke-width="2.3"/>
<clipPath id="c21"><rect x="435.75" y="759.3" width="32.9" height="79.65"/></clipPath>
<rect x="435.75" y="759.3" width="32.9" height="79.65" fill="#6b6b6b"/>
<path clip-path="url(#c21)" d="M433.75 745.4L470.65 708.5M433.75 753L470.65 716.1M433.75 760.6L470.65 723.7M433.75 768.2L470.65 731.3M433.75 775.8L470.65 738.9M433.75 783.4L470.65 746.5M433.75 791L470.65 754.1M433.75 798.6L470.65 761.7M433.75 806.2L470.65 769.3M433.75 813.8L470.65 776.9M433.75 821.4L470.65 784.5M433.75 829L470.65 792.1M433.75 836.6L470.65 799.7M433.75 844.2L470.65 807.3M433.75 851.8L470.65 814.9M433.75 859.4L470.65 822.5M433.75 867L470.65 830.1M433.75 874.6L470.65 837.7M433.75 882.2L470.65 845.3M433.75 889.8L470.65 852.9M433.75 897.4L470.65 860.5" stroke="#0a0a0a" stroke-width="2.1" fill="none"/>
<rect x="435.75" y="759.3" width="32.9" height="79.65" fill="none" stroke="#0a0a0a" stroke-width="2.3"/>
<path d="M337.5 764.8H354.6M337.5 799.4H354.6" stroke="#0a0a0a" stroke-width="2.2" fill="none"/><path d="M346.2 764.8V799.4" stroke="#0a0a0a" stroke-width="1.9" fill="none"/>
<path d="M390.5 817.7H407.6M390.5 821H407.6" stroke="#0a0a0a" stroke-width="2.2" fill="none"/><path d="M399.2 817.7V821" stroke="#0a0a0a" stroke-width="1.9" fill="none"/>
<path d="M443.5 692H460.6M443.5 824.4H460.6" stroke="#0a0a0a" stroke-width="2.2" fill="none"/><path d="M452.2 692V824.4" stroke="#0a0a0a" stroke-width="1.9" fill="none"/>
<circle cx="346.2" cy="764.1" r="2.1" fill="#f4f4f4" stroke="#0a0a0a" stroke-width="1.2"/>
<circle cx="346.2" cy="771.7" r="2.1" fill="#f4f4f4" stroke="#0a0a0a" stroke-width="1.2"/>
<circle cx="346.2" cy="792.2" r="2.1" fill="#f4f4f4" stroke="#0a0a0a" stroke-width="1.2"/>
<circle cx="346.2" cy="800.6" r="2.1" fill="#f4f4f4" stroke="#0a0a0a" stroke-width="1.2"/>
<circle cx="390.2" cy="819.7" r="2.1" fill="#f4f4f4" stroke="#0a0a0a" stroke-width="1.2"/>
<circle cx="399.1" cy="817.3" r="2.1" fill="#f4f4f4" stroke="#0a0a0a" stroke-width="1.2"/>
<circle cx="408.2" cy="818.8" r="2.1" fill="#f4f4f4" stroke="#0a0a0a" stroke-width="1.2"/>
<circle cx="452.6" cy="676.6" r="2.1" fill="#f4f4f4" stroke="#0a0a0a" stroke-width="1.2"/>
<circle cx="452.6" cy="755.4" r="2.1" fill="#f4f4f4" stroke="#0a0a0a" stroke-width="1.2"/>
<circle cx="452.6" cy="761.5" r="2.1" fill="#f4f4f4" stroke="#0a0a0a" stroke-width="1.2"/>
<circle cx="452.6" cy="839.5" r="2.1" fill="#f4f4f4" stroke="#0a0a0a" stroke-width="1.2"/>
<path d="M309.8 743.5H488.2" stroke="#0a0a0a" stroke-width="1.5" stroke-dasharray="3.75 3.72" fill="none"/>
<path d="M310.8 603.3V573.6H487.7V603.3" stroke="#0a0a0a" stroke-width="2.2" fill="none" stroke-linejoin="miter"/>
<path d="M488.2 602.2V838.95H304.4" stroke="#0a0a0a" stroke-width="2.3" fill="none" stroke-linejoin="miter"/>
<path d="M304.4 603.3H488.2" stroke="#0a0a0a" stroke-width="2.3" fill="none"/>
<path d="M310.8 603.3V637.4M310.8 647.85V838.95" stroke="#0a0a0a" stroke-width="2.25" fill="none"/>
<path d="M306.9 641.2L314.7 634.5M306.9 650.25L314.5 643.45" stroke="#0a0a0a" stroke-width="2.3" fill="none"/>
<path d="M304.4 630.3H310.8" stroke="#0a0a0a" stroke-width="2.2" fill="none"/>
<path d="M304.4 696H310.8" stroke="#0a0a0a" stroke-width="2.2" fill="none"/>
<path d="M304.4 743.65H310.8" stroke="#0a0a0a" stroke-width="2.2" fill="none"/>
<path d="M304.4 791.3H310.8" stroke="#0a0a0a" stroke-width="2.2" fill="none"/>
<text x="301.8" y="609.25" font-size="18" text-anchor="end">5.0</text>
<text x="301.8" y="635.45" font-size="18" text-anchor="end">3.0</text>
<text x="301.8" y="653" font-size="18" text-anchor="end">2.0</text>
<text x="301.8" y="701.95" font-size="18" text-anchor="end">1.5</text>
<text x="301.8" y="749.6" font-size="18" text-anchor="end">1.0</text>
<text x="301.8" y="797.25" font-size="18" text-anchor="end">0.5</text>
<text x="301.8" y="844.9" font-size="18" text-anchor="end">0.0</text>
<text transform="translate(266.8 717.55) rotate(-90)" font-size="18.6" text-anchor="middle">OM/EM</text>
<text x="401.7" y="594.75" font-size="18.3" text-anchor="middle">IL-8</text>
</g>
<g>
<rect x="579.95" y="810.2" width="32.9" height="28.75" fill="#d3d3d3" stroke="#0a0a0a" stroke-width="2.3"/>
<rect x="632.95" y="747" width="32.9" height="91.95" fill="#616161" stroke="#0a0a0a" stroke-width="2.3"/>
<clipPath id="c22"><rect x="685.95" y="809.7" width="32.9" height="29.25"/></clipPath>
<rect x="685.95" y="809.7" width="32.9" height="29.25" fill="#6b6b6b"/>
<path clip-path="url(#c22)" d="M683.95 795.8L720.85 758.9M683.95 803.4L720.85 766.5M683.95 811L720.85 774.1M683.95 818.6L720.85 781.7M683.95 826.2L720.85 789.3M683.95 833.8L720.85 796.9M683.95 841.4L720.85 804.5M683.95 849L720.85 812.1M683.95 856.6L720.85 819.7M683.95 864.2L720.85 827.3M683.95 871.8L720.85 834.9M683.95 879.4L720.85 842.5M683.95 887L720.85 850.1M683.95 894.6L720.85 857.7" stroke="#0a0a0a" stroke-width="2.1" fill="none"/>
<rect x="685.95" y="809.7" width="32.9" height="29.25" fill="none" stroke="#0a0a0a" stroke-width="2.3"/>
<path d="M587.7 803.9H604.8M587.7 813.2H604.8" stroke="#0a0a0a" stroke-width="2.2" fill="none"/><path d="M596.4 803.9V813.2" stroke="#0a0a0a" stroke-width="1.9" fill="none"/>
<path d="M640.7 739.3H657.8M640.7 751.2H657.8" stroke="#0a0a0a" stroke-width="2.2" fill="none"/><path d="M649.4 739.3V751.2" stroke="#0a0a0a" stroke-width="1.9" fill="none"/>
<path d="M693.7 786.9H710.8M693.7 829.2H710.8" stroke="#0a0a0a" stroke-width="2.2" fill="none"/><path d="M702.4 786.9V829.2" stroke="#0a0a0a" stroke-width="1.9" fill="none"/>
<circle cx="596.2" cy="801.3" r="2.1" fill="#f4f4f4" stroke="#0a0a0a" stroke-width="1.2"/>
<circle cx="596.2" cy="808.9" r="2.1" fill="#f4f4f4" stroke="#0a0a0a" stroke-width="1.2"/>
<circle cx="587.4" cy="813.2" r="2.1" fill="#f4f4f4" stroke="#0a0a0a" stroke-width="1.2"/>
<circle cx="605.1" cy="812" r="2.1" fill="#f4f4f4" stroke="#0a0a0a" stroke-width="1.2"/>
<circle cx="644.8" cy="740.6" r="2.1" fill="#f4f4f4" stroke="#0a0a0a" stroke-width="1.2"/>
<circle cx="653.7" cy="743.1" r="2.1" fill="#f4f4f4" stroke="#0a0a0a" stroke-width="1.2"/>
<circle cx="649.4" cy="752" r="2.1" fill="#f4f4f4" stroke="#0a0a0a" stroke-width="1.2"/>
<circle cx="702.3" cy="792.5" r="2.1" fill="#f4f4f4" stroke="#0a0a0a" stroke-width="1.2"/>
<circle cx="702.3" cy="798.3" r="2.1" fill="#f4f4f4" stroke="#0a0a0a" stroke-width="1.2"/>
<circle cx="702.3" cy="804.1" r="2.1" fill="#f4f4f4" stroke="#0a0a0a" stroke-width="1.2"/>
<circle cx="702.3" cy="837.5" r="2.1" fill="#f4f4f4" stroke="#0a0a0a" stroke-width="1.2"/>
<circle cx="702.3" cy="840" r="2.1" fill="#f4f4f4" stroke="#0a0a0a" stroke-width="1.2"/>
<path d="M560 743.5H738.4" stroke="#0a0a0a" stroke-width="1.5" stroke-dasharray="3.75 3.72" fill="none"/>
<path d="M561 603.3V573.6H737.9V603.3" stroke="#0a0a0a" stroke-width="2.2" fill="none" stroke-linejoin="miter"/>
<path d="M738.4 602.2V838.95H554.6" stroke="#0a0a0a" stroke-width="2.3" fill="none" stroke-linejoin="miter"/>
<path d="M554.6 603.3H738.4" stroke="#0a0a0a" stroke-width="2.3" fill="none"/>
<path d="M561 603.3V637.4M561 647.85V838.95" stroke="#0a0a0a" stroke-width="2.25" fill="none"/>
<path d="M557.1 641.2L564.9 634.5M557.1 650.25L564.7 643.45" stroke="#0a0a0a" stroke-width="2.3" fill="none"/>
<path d="M554.6 630.3H561" stroke="#0a0a0a" stroke-width="2.2" fill="none"/>
<path d="M554.6 696H561" stroke="#0a0a0a" stroke-width="2.2" fill="none"/>
<path d="M554.6 743.65H561" stroke="#0a0a0a" stroke-width="2.2" fill="none"/>
<path d="M554.6 791.3H561" stroke="#0a0a0a" stroke-width="2.2" fill="none"/>
<text x="552.2" y="609.25" font-size="18" text-anchor="end">5.0</text>
<text x="552.2" y="635.45" font-size="18" text-anchor="end">3.0</text>
<text x="552.2" y="653" font-size="18" text-anchor="end">2.0</text>
<text x="552.2" y="701.95" font-size="18" text-anchor="end">1.5</text>
<text x="552.2" y="749.6" font-size="18" text-anchor="end">1.0</text>
<text x="552.2" y="797.25" font-size="18" text-anchor="end">0.5</text>
<text x="552.2" y="844.9" font-size="18" text-anchor="end">0.0</text>
<text transform="translate(517.5 717.55) rotate(-90)" font-size="18.6" text-anchor="middle">OM/EM</text>
<text x="649.7" y="594.75" font-size="18.3" text-anchor="middle">IL-1RA</text>
<path d="M654.9 721.7H694.7" stroke="#0a0a0a" stroke-width="2.4" fill="none"/>
<text x="674.4" y="723.2" font-size="17" text-anchor="middle" letter-spacing="0.8">**</text>
</g>
<g>
<rect x="79.55" y="1092.7" width="32.9" height="30.05" fill="#d3d3d3" stroke="#0a0a0a" stroke-width="2.3"/>
<rect x="132.55" y="1067.9" width="32.9" height="54.85" fill="#616161" stroke="#0a0a0a" stroke-width="2.3"/>
<clipPath id="c30"><rect x="185.55" y="1117.2" width="32.9" height="5.55"/></clipPath>
<rect x="185.55" y="1117.2" width="32.9" height="5.55" fill="#6b6b6b"/>
<path clip-path="url(#c30)" d="M183.55 1103.3L220.45 1066.4M183.55 1110.9L220.45 1074M183.55 1118.5L220.45 1081.6M183.55 1126.1L220.45 1089.2M183.55 1133.7L220.45 1096.8M183.55 1141.3L220.45 1104.4M183.55 1148.9L220.45 1112M183.55 1156.5L220.45 1119.6M183.55 1164.1L220.45 1127.2M183.55 1171.7L220.45 1134.8M183.55 1179.3L220.45 1142.4" stroke="#0a0a0a" stroke-width="2.1" fill="none"/>
<rect x="185.55" y="1117.2" width="32.9" height="5.55" fill="none" stroke="#0a0a0a" stroke-width="2.3"/>
<path d="M87.3 1085H104.4M87.3 1097H104.4" stroke="#0a0a0a" stroke-width="2.2" fill="none"/><path d="M96 1085V1097" stroke="#0a0a0a" stroke-width="1.9" fill="none"/>
<path d="M140.3 1062.5H157.4M140.3 1070.9H157.4" stroke="#0a0a0a" stroke-width="2.2" fill="none"/><path d="M149 1062.5V1070.9" stroke="#0a0a0a" stroke-width="1.9" fill="none"/>
<path d="M193.3 1110.1H210.4M193.3 1122H210.4" stroke="#0a0a0a" stroke-width="2.2" fill="none"/><path d="M202 1110.1V1122" stroke="#0a0a0a" stroke-width="1.9" fill="none"/>
<circle cx="96.2" cy="1082.9" r="2.1" fill="#f4f4f4" stroke="#0a0a0a" stroke-width="1.2"/>
<circle cx="96.2" cy="1089.3" r="2.1" fill="#f4f4f4" stroke="#0a0a0a" stroke-width="1.2"/>
<circle cx="91.6" cy="1097" r="2.1" fill="#f4f4f4" stroke="#0a0a0a" stroke-width="1.2"/>
<circle cx="100.5" cy="1095.2" r="2.1" fill="#f4f4f4" stroke="#0a0a0a" stroke-width="1.2"/>
<circle cx="145" cy="1064.5" r="2.1" fill="#f4f4f4" stroke="#0a0a0a" stroke-width="1.2"/>
<circle cx="154" cy="1064.5" r="2.1" fill="#f4f4f4" stroke="#0a0a0a" stroke-width="1.2"/>
<circle cx="149.1" cy="1071.4" r="2.1" fill="#f4f4f4" stroke="#0a0a0a" stroke-width="1.2"/>
<circle cx="206.7" cy="1110.1" r="2.1" fill="#f4f4f4" stroke="#0a0a0a" stroke-width="1.2"/>
<circle cx="197.6" cy="1114.6" r="2.1" fill="#f4f4f4" stroke="#0a0a0a" stroke-width="1.2"/>
<circle cx="206.7" cy="1115.5" r="2.1" fill="#f4f4f4" stroke="#0a0a0a" stroke-width="1.2"/>
<circle cx="201.9" cy="1121" r="2.1" fill="#f4f4f4" stroke="#0a0a0a" stroke-width="1.2"/>
<circle cx="201.9" cy="1123.9" r="2.1" fill="#f4f4f4" stroke="#0a0a0a" stroke-width="1.2"/>
<path d="M59.6 1027.7H238" stroke="#0a0a0a" stroke-width="1.5" stroke-dasharray="3.75 3.72" fill="none"/>
<path d="M60.6 887.4V857.4H237.5V887.4" stroke="#0a0a0a" stroke-width="2.2" fill="none" stroke-linejoin="miter"/>
<path d="M238 886.3V1122.75H54.2" stroke="#0a0a0a" stroke-width="2.3" fill="none" stroke-linejoin="miter"/>
<path d="M54.2 887.4H238" stroke="#0a0a0a" stroke-width="2.3" fill="none"/>
<path d="M60.6 887.4V921.5M60.6 931.65V1122.75" stroke="#0a0a0a" stroke-width="2.25" fill="none"/>
<path d="M56.7 925.3L64.5 918.6M56.7 934.05L64.3 927.25" stroke="#0a0a0a" stroke-width="2.3" fill="none"/>
<path d="M54.2 914.4H60.6" stroke="#0a0a0a" stroke-width="2.2" fill="none"/>
<path d="M54.2 979.8H60.6" stroke="#0a0a0a" stroke-width="2.2" fill="none"/>
<path d="M54.2 1027.75H60.6" stroke="#0a0a0a" stroke-width="2.2" fill="none"/>
<path d="M54.2 1075.3H60.6" stroke="#0a0a0a" stroke-width="2.2" fill="none"/>
<text x="51.5" y="893.7" font-size="18" text-anchor="end">5.0</text>
<text x="51.5" y="919.9" font-size="18" text-anchor="end">3.0</text>
<text x="51.5" y="937.15" font-size="18" text-anchor="end">2.0</text>
<text x="51.5" y="986.1" font-size="18" text-anchor="end">1.5</text>
<text x="51.5" y="1033.75" font-size="18" text-anchor="end">1.0</text>
<text x="51.5" y="1081.4" font-size="18" text-anchor="end">0.5</text>
<text x="51.5" y="1129.05" font-size="18" text-anchor="end">0.0</text>
<text transform="translate(16.3 1001.35) rotate(-90)" font-size="18.6" text-anchor="middle">OM/EM</text>
<text x="148.3" y="878.55" font-size="18.3" text-anchor="middle">HGF</text>
<path d="M154.7 1012.9H194.4" stroke="#0a0a0a" stroke-width="2.4" fill="none"/>
<text x="174.9" y="1014.5" font-size="17" text-anchor="middle" letter-spacing="0.8">***</text>
</g>
<g>
<rect x="330.05" y="1112.1" width="32.9" height="10.65" fill="#d3d3d3" stroke="#0a0a0a" stroke-width="2.3"/>
<rect x="383.05" y="1037.2" width="32.9" height="85.55" fill="#616161" stroke="#0a0a0a" stroke-width="2.3"/>
<clipPath id="c31"><rect x="436.05" y="1119" width="32.9" height="3.75"/></clipPath>
<rect x="436.05" y="1119" width="32.9" height="3.75" fill="#6b6b6b"/>
<path clip-path="url(#c31)" d="M434.05 1105.1L470.95 1068.2M434.05 1112.7L470.95 1075.8M434.05 1120.3L470.95 1083.4M434.05 1127.9L470.95 1091M434.05 1135.5L470.95 1098.6M434.05 1143.1L470.95 1106.2M434.05 1150.7L470.95 1113.8M434.05 1158.3L470.95 1121.4M434.05 1165.9L470.95 1129M434.05 1173.5L470.95 1136.6M434.05 1181.1L470.95 1144.2" stroke="#0a0a0a" stroke-width="2.1" fill="none"/>
<rect x="436.05" y="1119" width="32.9" height="3.75" fill="none" stroke="#0a0a0a" stroke-width="2.3"/>
<path d="M337.8 1107.5H354.9M337.8 1113.9H354.9" stroke="#0a0a0a" stroke-width="2.2" fill="none"/><path d="M346.5 1107.5V1113.9" stroke="#0a0a0a" stroke-width="1.9" fill="none"/>
<path d="M390.8 1029.2H407.9M390.8 1042H407.9" stroke="#0a0a0a" stroke-width="2.2" fill="none"/><path d="M399.5 1029.2V1042" stroke="#0a0a0a" stroke-width="1.9" fill="none"/>
<path d="M443.8 1114.4H460.9M443.8 1122H460.9" stroke="#0a0a0a" stroke-width="2.2" fill="none"/><path d="M452.5 1114.4V1122" stroke="#0a0a0a" stroke-width="1.9" fill="none"/>
<circle cx="337.5" cy="1107.5" r="2.1" fill="#f4f4f4" stroke="#0a0a0a" stroke-width="1.2"/>
<circle cx="355.4" cy="1108" r="2.1" fill="#f4f4f4" stroke="#0a0a0a" stroke-width="1.2"/>
<circle cx="340" cy="1112.6" r="2.1" fill="#f4f4f4" stroke="#0a0a0a" stroke-width="1.2"/>
<circle cx="346.4" cy="1115.1" r="2.1" fill="#f4f4f4" stroke="#0a0a0a" stroke-width="1.2"/>
<circle cx="399.1" cy="1029.5" r="2.1" fill="#f4f4f4" stroke="#0a0a0a" stroke-width="1.2"/>
<circle cx="399.1" cy="1035.6" r="2.1" fill="#f4f4f4" stroke="#0a0a0a" stroke-width="1.2"/>
<circle cx="399.1" cy="1042" r="2.1" fill="#f4f4f4" stroke="#0a0a0a" stroke-width="1.2"/>
<circle cx="456.6" cy="1113.9" r="2.1" fill="#f4f4f4" stroke="#0a0a0a" stroke-width="1.2"/>
<circle cx="447.7" cy="1117.7" r="2.1" fill="#f4f4f4" stroke="#0a0a0a" stroke-width="1.2"/>
<circle cx="456.6" cy="1119" r="2.1" fill="#f4f4f4" stroke="#0a0a0a" stroke-width="1.2"/>
<circle cx="447.7" cy="1122.8" r="2.1" fill="#f4f4f4" stroke="#0a0a0a" stroke-width="1.2"/>
<path d="M310.1 1027.7H488.5" stroke="#0a0a0a" stroke-width="1.5" stroke-dasharray="3.75 3.72" fill="none"/>
<path d="M311.1 887.4V857.4H488V887.4" stroke="#0a0a0a" stroke-width="2.2" fill="none" stroke-linejoin="miter"/>
<path d="M488.5 886.3V1122.75H304.7" stroke="#0a0a0a" stroke-width="2.3" fill="none" stroke-linejoin="miter"/>
<path d="M304.7 887.4H488.5" stroke="#0a0a0a" stroke-width="2.3" fill="none"/>
<path d="M311.1 887.4V921.5M311.1 931.65V1122.75" stroke="#0a0a0a" stroke-width="2.25" fill="none"/>
<path d="M307.2 925.3L315 918.6M307.2 934.05L314.8 927.25" stroke="#0a0a0a" stroke-width="2.3" fill="none"/>
<path d="M304.7 914.4H311.1" stroke="#0a0a0a" stroke-width="2.2" fill="none"/>
<path d="M304.7 979.8H311.1" stroke="#0a0a0a" stroke-width="2.2" fill="none"/>
<path d="M304.7 1027.75H311.1" stroke="#0a0a0a" stroke-width="2.2" fill="none"/>
<path d="M304.7 1075.3H311.1" stroke="#0a0a0a" stroke-width="2.2" fill="none"/>
<text x="302.1" y="893.7" font-size="18" text-anchor="end">5.0</text>
<text x="302.1" y="919.9" font-size="18" text-anchor="end">3.0</text>
<text x="302.1" y="937.15" font-size="18" text-anchor="end">2.0</text>
<text x="302.1" y="986.1" font-size="18" text-anchor="end">1.5</text>
<text x="302.1" y="1033.75" font-size="18" text-anchor="end">1.0</text>
<text x="302.1" y="1081.4" font-size="18" text-anchor="end">0.5</text>
<text x="302.1" y="1129.05" font-size="18" text-anchor="end">0.0</text>
<text transform="translate(267.1 1001.35) rotate(-90)" font-size="18.6" text-anchor="middle">OM/EM</text>
<text x="397.9" y="878.55" font-size="18.3" text-anchor="middle">SCF</text>
<path d="M404.2 1014H443.9" stroke="#0a0a0a" stroke-width="2.4" fill="none"/>
<text x="424.4" y="1015.6" font-size="17" text-anchor="middle" letter-spacing="0.8">***</text>
</g>
<g>
<rect x="579.95" y="1043.5" width="32.9" height="79.25" fill="#d3d3d3" stroke="#0a0a0a" stroke-width="2.3"/>
<rect x="632.95" y="995.3" width="32.9" height="127.45" fill="#616161" stroke="#0a0a0a" stroke-width="2.3"/>
<clipPath id="c32"><rect x="685.95" y="1059.7" width="32.9" height="63.05"/></clipPath>
<rect x="685.95" y="1059.7" width="32.9" height="63.05" fill="#6b6b6b"/>
<path clip-path="url(#c32)" d="M683.95 1045.8L720.85 1008.9M683.95 1053.4L720.85 1016.5M683.95 1061L720.85 1024.1M683.95 1068.6L720.85 1031.7M683.95 1076.2L720.85 1039.3M683.95 1083.8L720.85 1046.9M683.95 1091.4L720.85 1054.5M683.95 1099L720.85 1062.1M683.95 1106.6L720.85 1069.7M683.95 1114.2L720.85 1077.3M683.95 1121.8L720.85 1084.9M683.95 1129.4L720.85 1092.5M683.95 1137L720.85 1100.1M683.95 1144.6L720.85 1107.7M683.95 1152.2L720.85 1115.3M683.95 1159.8L720.85 1122.9M683.95 1167.4L720.85 1130.5M683.95 1175L720.85 1138.1" stroke="#0a0a0a" stroke-width="2.1" fill="none"/>
<rect x="685.95" y="1059.7" width="32.9" height="63.05" fill="none" stroke="#0a0a0a" stroke-width="2.3"/>
<path d="M587.7 1012.8H604.8M587.7 1070.3H604.8" stroke="#0a0a0a" stroke-width="2.2" fill="none"/><path d="M596.4 1012.8V1070.3" stroke="#0a0a0a" stroke-width="1.9" fill="none"/>
<path d="M640.7 907.2H657.8" stroke="#0a0a0a" stroke-width="2.2" fill="none"/><path d="M649.4 907.2V920.4M649.4 932.8V1122.75" stroke="#0a0a0a" stroke-width="1.9" fill="none"/>
<path d="M693.7 1013.3H710.8M693.7 1103.2H710.8" stroke="#0a0a0a" stroke-width="2.2" fill="none"/><path d="M702.4 1013.3V1103.2" stroke="#0a0a0a" stroke-width="1.9" fill="none"/>
<circle cx="587.4" cy="1027.3" r="2.1" fill="#f4f4f4" stroke="#0a0a0a" stroke-width="1.2"/>
<circle cx="596.2" cy="1027.3" r="2.1" fill="#f4f4f4" stroke="#0a0a0a" stroke-width="1.2"/>
<circle cx="605.1" cy="1027.3" r="2.1" fill="#f4f4f4" stroke="#0a0a0a" stroke-width="1.2"/>
<circle cx="596.2" cy="1085" r="2.1" fill="#f4f4f4" stroke="#0a0a0a" stroke-width="1.2"/>
<circle cx="649.4" cy="892.9" r="2.1" fill="#f4f4f4" stroke="#0a0a0a" stroke-width="1.2"/>
<circle cx="644.8" cy="1094.3" r="2.1" fill="#f4f4f4" stroke="#0a0a0a" stroke-width="1.2"/>
<circle cx="653.7" cy="1094.3" r="2.1" fill="#f4f4f4" stroke="#0a0a0a" stroke-width="1.2"/>
<circle cx="649.4" cy="1103.9" r="2.1" fill="#f4f4f4" stroke="#0a0a0a" stroke-width="1.2"/>
<circle cx="698" cy="1027.3" r="2.1" fill="#f4f4f4" stroke="#0a0a0a" stroke-width="1.2"/>
<circle cx="706.8" cy="1027.3" r="2.1" fill="#f4f4f4" stroke="#0a0a0a" stroke-width="1.2"/>
<circle cx="702.5" cy="1055.9" r="2.1" fill="#f4f4f4" stroke="#0a0a0a" stroke-width="1.2"/>
<circle cx="702.5" cy="1122.9" r="2.1" fill="#f4f4f4" stroke="#0a0a0a" stroke-width="1.2"/>
<path d="M560 1027.7H738.4" stroke="#0a0a0a" stroke-width="1.5" stroke-dasharray="3.75 3.72" fill="none"/>
<path d="M561 887.4V857.4H737.9V887.4" stroke="#0a0a0a" stroke-width="2.2" fill="none" stroke-linejoin="miter"/>
<path d="M738.4 886.3V1122.75H554.6" stroke="#0a0a0a" stroke-width="2.3" fill="none" stroke-linejoin="miter"/>
<path d="M554.6 887.4H738.4" stroke="#0a0a0a" stroke-width="2.3" fill="none"/>
<path d="M561 887.4V921.5M561 931.65V1122.75" stroke="#0a0a0a" stroke-width="2.25" fill="none"/>
<path d="M557.1 925.3L564.9 918.6M557.1 934.05L564.7 927.25" stroke="#0a0a0a" stroke-width="2.3" fill="none"/>
<path d="M554.6 914.4H561" stroke="#0a0a0a" stroke-width="2.2" fill="none"/>
<path d="M554.6 979.8H561" stroke="#0a0a0a" stroke-width="2.2" fill="none"/>
<path d="M554.6 1027.75H561" stroke="#0a0a0a" stroke-width="2.2" fill="none"/>
<path d="M554.6 1075.3H561" stroke="#0a0a0a" stroke-width="2.2" fill="none"/>
<text x="552.2" y="893.7" font-size="18" text-anchor="end">5.0</text>
<text x="552.2" y="919.9" font-size="18" text-anchor="end">3.0</text>
<text x="552.2" y="937.15" font-size="18" text-anchor="end">2.0</text>
<text x="552.2" y="986.1" font-size="18" text-anchor="end">1.5</text>
<text x="552.2" y="1033.75" font-size="18" text-anchor="end">1.0</text>
<text x="552.2" y="1081.4" font-size="18" text-anchor="end">0.5</text>
<text x="552.2" y="1129.05" font-size="18" text-anchor="end">0.0</text>
<text transform="translate(517.5 1001.35) rotate(-90)" font-size="18.6" text-anchor="middle">OM/EM</text>
<text x="651.9" y="878.55" font-size="18.3" text-anchor="middle">TGF-β1</text>
</g>
<rect x="253.7" y="1145.3" width="13.4" height="12.5" fill="#d3d3d3" stroke="#0a0a0a" stroke-width="2.4"/>
<rect x="327.6" y="1145.3" width="13.2" height="12.5" fill="#616161" stroke="#0a0a0a" stroke-width="2.4"/>
<clipPath id="cleg"><rect x="423.4" y="1145.1" width="13.7" height="12.9"/></clipPath>
<rect x="423.4" y="1145.1" width="13.7" height="12.9" fill="#6b6b6b"/>
<path clip-path="url(#cleg)" d="M421.4 1131.4L439.1 1113.7M421.4 1139L439.1 1121.3M421.4 1146.6L439.1 1128.9M421.4 1154.2L439.1 1136.5M421.4 1161.8L439.1 1144.1M421.4 1169.4L439.1 1151.7M421.4 1177L439.1 1159.3M421.4 1184.6L439.1 1166.9M421.4 1192.2L439.1 1174.5" stroke="#0a0a0a" stroke-width="2.1" fill="none"/>
<rect x="423.4" y="1145.1" width="13.7" height="12.9" fill="none" stroke="#0a0a0a" stroke-width="2.4"/>
<text x="277.7" y="1157.7" font-size="18.7">TCP</text>
<text x="350.6" y="1157.7" font-size="18.7">Nb Pol</text>
<text x="447.2" y="1157.7" font-size="18.7">Nb LIPSS</text>
</svg>
</body></html>
